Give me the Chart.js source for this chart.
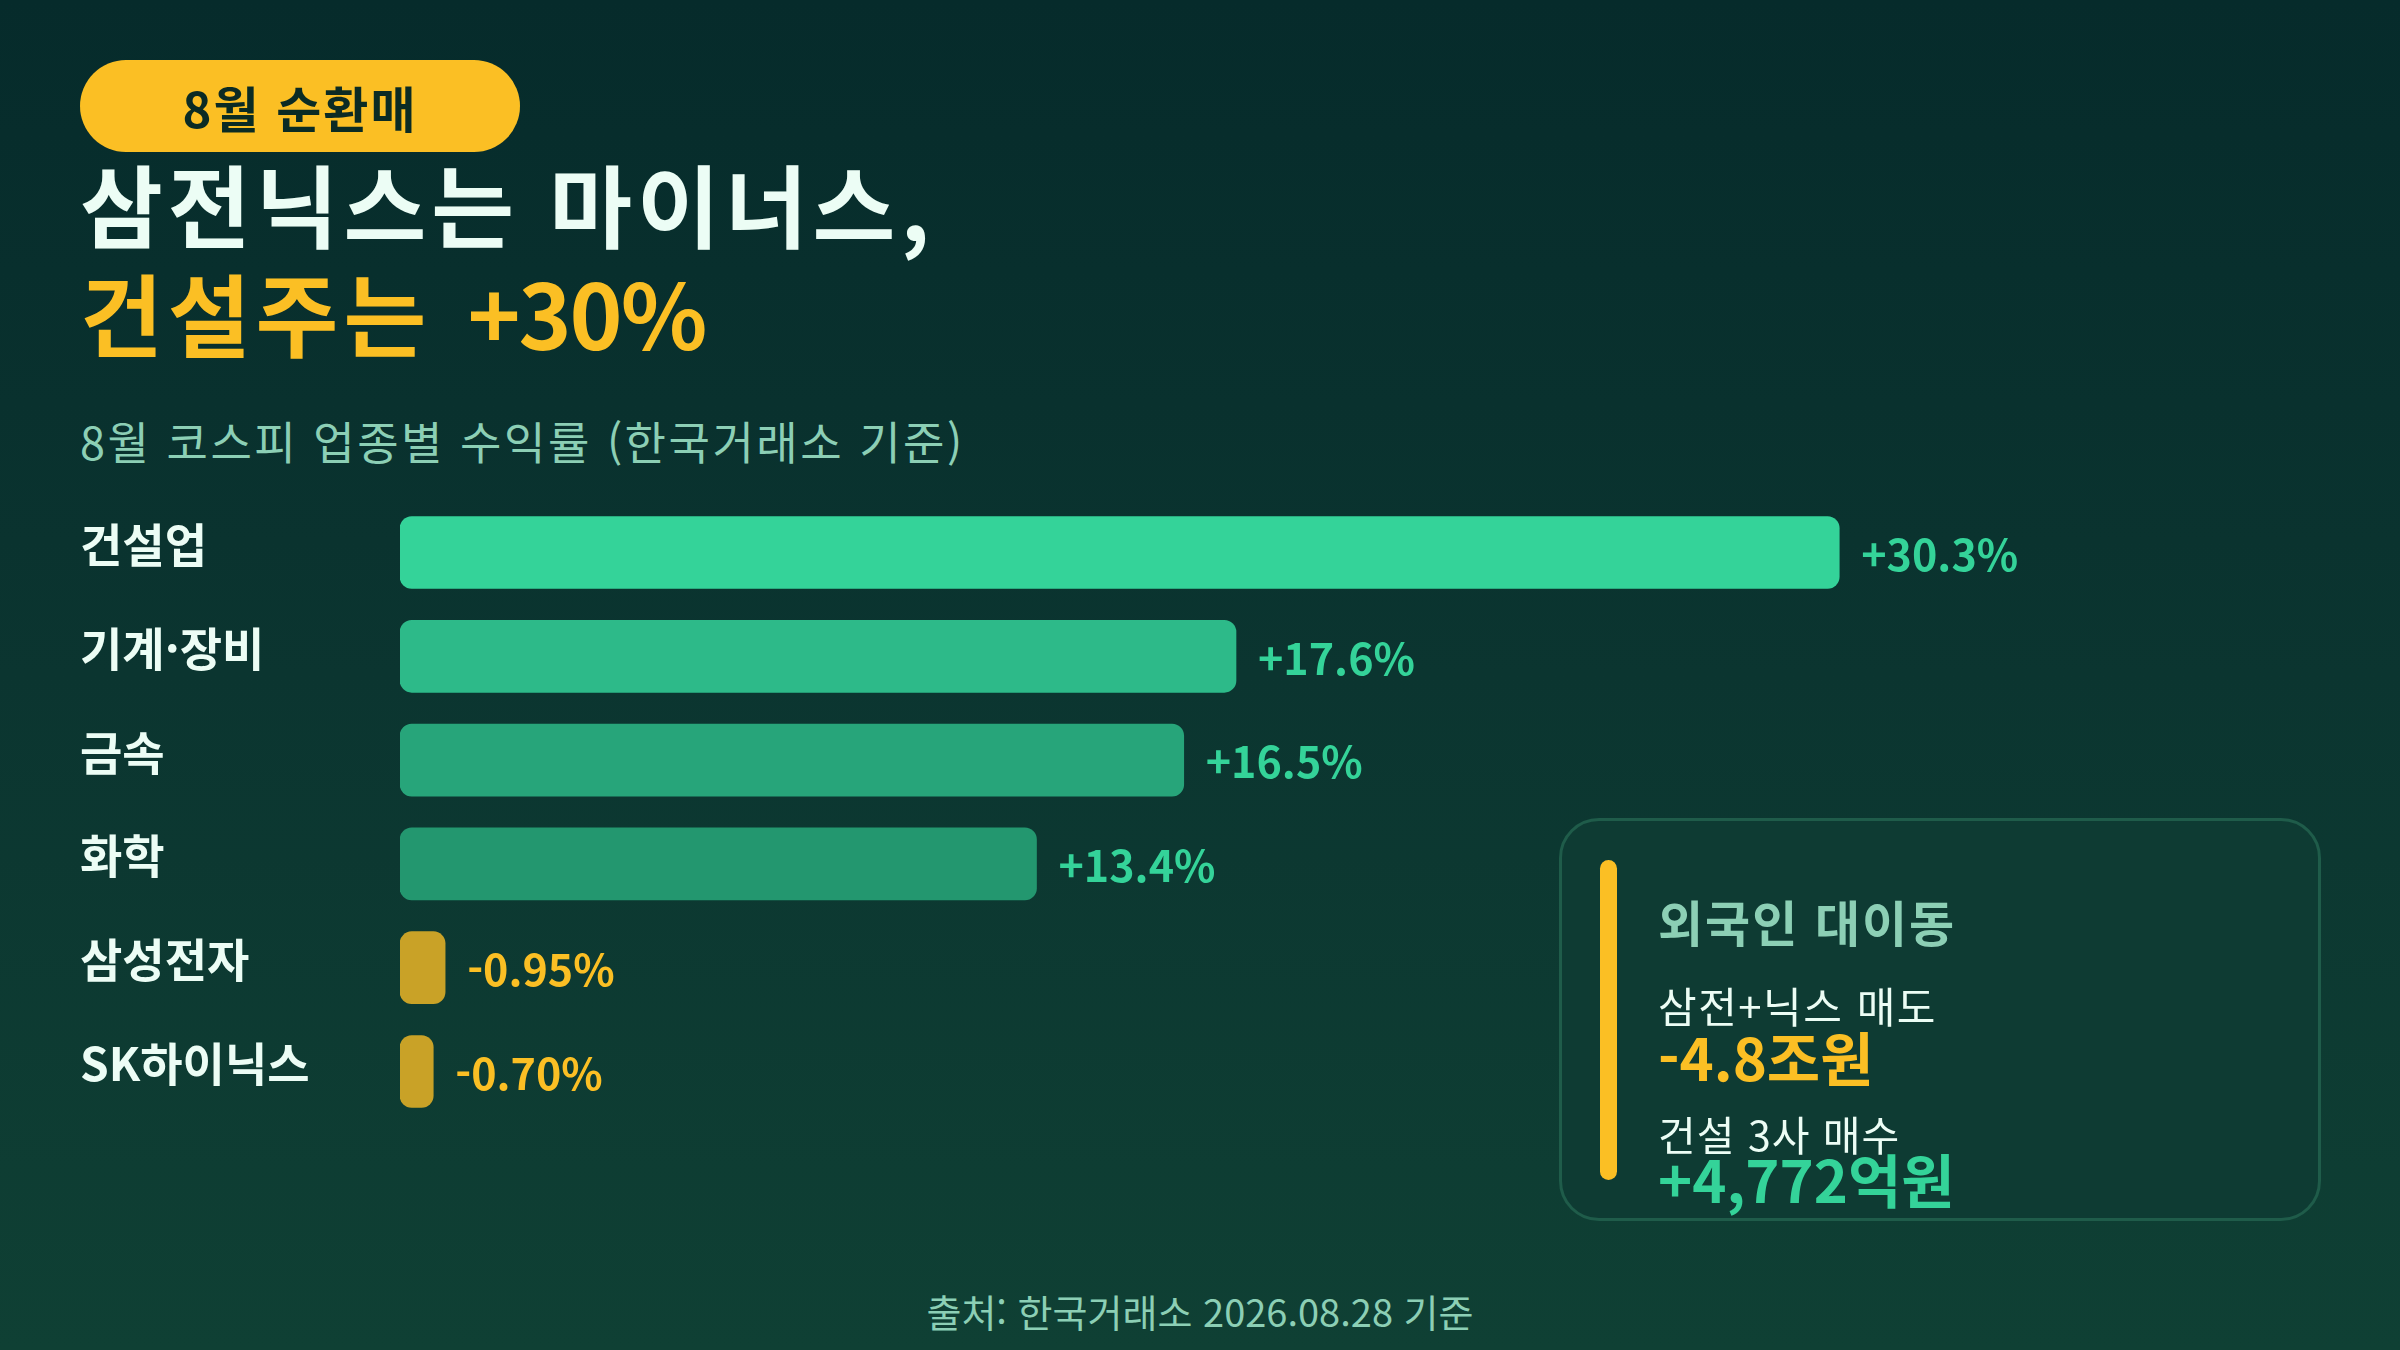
<!DOCTYPE html>
<html lang="ko">
<head>
<meta charset="utf-8">
<script src="https://cdn.jsdelivr.net/npm/chart.js@4.4.1/dist/chart.umd.min.js"></script>
<style>
  html, body { margin: 0; padding: 0; }
  body {
    width: 2400px; height: 1350px; overflow: hidden; position: relative;
    background: linear-gradient(180deg, #062b2b 0%, #0b3530 50%, #0f4034 100%);
    font-family: "Noto Sans CJK KR", "Noto Sans", sans-serif;
  }
  .abs { position: absolute; white-space: nowrap; line-height: 1; }
  .badge {
    left: 80px; top: 60px; width: 440px; height: 92px; border-radius: 46px;
    background: #fbbf24; color: #0b2b24; font-weight: 700; font-size: 49px; letter-spacing: 2px;
    display: flex; align-items: center; justify-content: center;
  }
  .title1 { left: 80px; top: 157px; font-size: 90px; font-weight: 700; color: #ecfdf5; letter-spacing: 5px; }
  .title2 { left: 80px; top: 266px; font-size: 90px; font-weight: 700; color: #fbbf24; letter-spacing: 5px; word-spacing: 6px; }
  .title2 span { letter-spacing: -2px; }
  .sub { left: 80px; top: 418px; font-size: 45px; color: #8ccfb5; letter-spacing: 2.5px; }
  #chartBox { position: absolute; left: 80px; top: 473px; width: 2220px; height: 678px; }
  .card {
    position: absolute; left: 1559px; top: 818px; width: 756px; height: 397px;
    border: 3px solid #1f5c4a; border-radius: 40px; background: #0e3b33;
  }
  .card .bar { position: absolute; left: 38px; top: 39px; width: 17px; height: 320px; border-radius: 9px; background: #fbbf24; }
  .card .h { left: 96px; top: 75px; font-size: 49px; font-weight: 700; color: #8ccfb5; letter-spacing: 2px; }
  .card .l1 { left: 96px; top: 163px; font-size: 42px; color: #ecfdf5; letter-spacing: 1.5px; }
  .card .v1 { left: 96px; top: 206px; font-size: 58px; font-weight: 700; color: #fbbf24; }
  .card .l2 { left: 96px; top: 292px; font-size: 41px; color: #ecfdf5; letter-spacing: 1px; }
  .card .v2 { left: 96px; top: 328px; font-size: 58px; font-weight: 700; color: #34d399; }
  .foot { left: 0; width: 2400px; text-align: center; top: 1292px; font-size: 38px; color: #8ccfb5; }
</style>
</head>
<body>
<div class="abs badge">8월 순환매</div>
<div class="abs title1">삼전닉스는 마이너스,</div>
<div class="abs title2">건설주는 <span>+30%</span></div>
<div class="abs sub">8월 코스피 업종별 수익률 (한국거래소 기준)</div>

<div id="chartBox"><canvas id="myChart"></canvas></div>

<div class="card">
  <div class="bar"></div>
  <div class="abs h">외국인 대이동</div>
  <div class="abs l1">삼전+닉스 매도</div>
  <div class="abs v1">-4.8조원</div>
  <div class="abs l2">건설 3사 매수</div>
  <div class="abs v2">+4,772억원</div>
</div>

<div class="abs foot">출처: 한국거래소 2026.08.28 기준</div>

<script>
// data
const sectors = ["건설업", "기계·장비", "금속", "화학", "삼성전자", "SK하이닉스"];
const returns = [30.3, 17.6, 16.5, 13.4, -0.95, -0.7];
const returnLabels = ["+30.3%", "+17.6%", "+16.5%", "+13.4%", "-0.95%", "-0.70%"];
const barColors = ["#34d399", "#2dba89", "#27a57a", "#23976f", "#c9a227", "#c9a227"];

// value text after each bar
const valueLabels = {
  id: "valueLabels",
  afterDatasetsDraw(chart) {
    const ctx = chart.ctx;
    const meta = chart.getDatasetMeta(0);
    ctx.save();
    ctx.font = "700 43px 'Noto Sans CJK KR', sans-serif";
    ctx.textBaseline = "middle";
    ctx.textAlign = "left";
    meta.data.forEach((bar, i) => {
      ctx.fillStyle = returns[i] < 0 ? "#fbbf24" : "#34d399";
      ctx.fillText(returnLabels[i], bar.x + 22, bar.y + 2);
    });
    ctx.restore();
  },
};

const ctx = document.getElementById("myChart").getContext("2d");
const myChart = new Chart(ctx, {
  type: "bar",
  data: {
    labels: sectors,
    datasets: [
      {
        // bar length is the size of the move, sign shown by colour
        data: returns.map((v) => Math.abs(v)),
        backgroundColor: barColors,
        borderRadius: 12,
        borderSkipped: false,
        barThickness: 72,
      },
    ],
  },
  options: {
    indexAxis: "y",
    responsive: true,
    maintainAspectRatio: false,
    animation: false,
    layout: { padding: 0 },
    plugins: { legend: { display: false }, tooltip: { enabled: false } },
    scales: {
      x: { display: false, min: 0, max: 40 },
      y: {
        grid: { display: false },
        border: { display: false },
        afterFit: (axis) => { axis.width = 320; },
        ticks: {
          color: "#ecfdf5",
          font: { family: "'Noto Sans CJK KR', sans-serif", size: 46, weight: "700" },
          crossAlign: "far",
          padding: 0,
          labelOffset: -8,
        },
      },
    },
  },
  plugins: [valueLabels],
});
</script>
</body>
</html>
